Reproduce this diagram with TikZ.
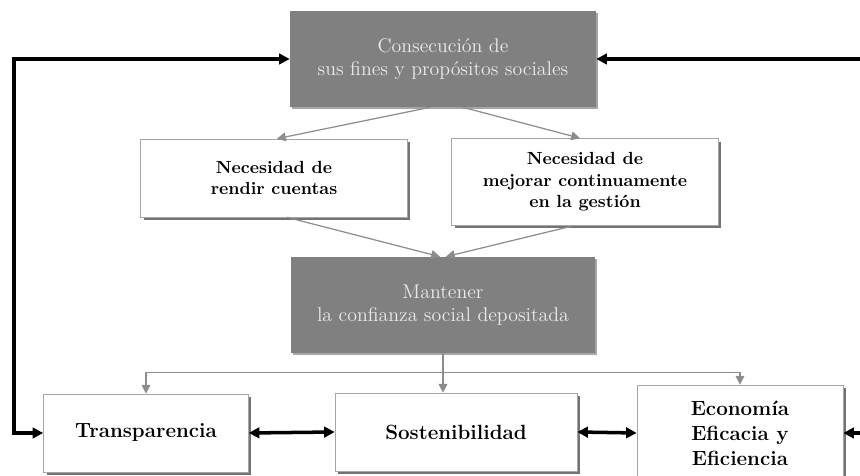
\documentclass[tikz,border=0pt]{standalone}
\usepackage{tikz}
\usetikzlibrary{arrows.meta}
\usetikzlibrary{shadows}
\usetikzlibrary{calc, positioning}
\definecolor{boxgray}{HTML}{808080}
\definecolor{linegray}{HTML}{8C8C8C}

\begin{document}
\begin{tikzpicture}[x=0.02cm, y=-0.02cm,
	darkbox/.style={fill=boxgray, text=white!92!black, align=center, font=\fontsize{11.3}{12.8}\selectfont,
		drop shadow={shadow xshift=0.4mm, shadow yshift=-0.4mm, fill=black!35, opacity=1}},
	lightbox/.style={draw=black!35, fill=white, align=center, font=\bfseries\fontsize{10}{12.3}\selectfont,
		drop shadow={shadow xshift=0.6mm, shadow yshift=-0.6mm, fill=black!55, opacity=1}},
	basebox/.style={lightbox, font=\bfseries\fontsize{11.7}{14.2}\selectfont},
	grayarrow/.style={draw=linegray, line width=0.7pt, -{Triangle[length=5pt, width=5pt]}},
	blackarrow/.style={draw=black, line width=2pt, -{Triangle[length=6pt, width=6pt]}},
	both/.style={blackarrow, {Triangle[length=6pt, width=6pt]}-{Triangle[length=6pt, width=6pt]}}]
	\useasboundingbox (0,0) rectangle (860,476);
	\node[darkbox, minimum width=6.12cm, minimum height=1.92cm] (fines) at (443,59) {Consecución de\\sus fines y propósitos sociales};
	\node[lightbox, minimum width=5.34cm, minimum height=1.56cm] (cuentas) at (274,178) {Necesidad de\\rendir cuentas};
	\node[lightbox, minimum width=5.34cm, minimum height=1.74cm] (mejorar) at (585,182) {Necesidad de\\mejorar continuamente\\en la gestión};
	\node[darkbox, minimum width=6.1cm, minimum height=1.92cm] (confianza) at (443,305) {Mantener\\la confianza social depositada};
	\node[basebox, minimum width=4.1cm, minimum height=1.56cm] (transp) at (146,433) {Transparencia};
	\node[basebox, minimum width=4.84cm, minimum height=1.56cm] (sost) at (456,432) {Sostenibilidad};
	\node[basebox, minimum width=4.12cm, minimum height=1.92cm] (econ) at (740,433) {Economía\\Eficacia y\\Eficiencia};
	\coordinate (split) at ($(confianza.south)+(0,19)$);
	\coordinate (lefttop) at (14,59);
	\coordinate (righttop) at (864,59);
	\coordinate (rightbottom) at (864,433);
	\draw[grayarrow] ($(fines.south)+(-13,0)$) -- ($(cuentas.north)+(3,0)$);
	\draw[grayarrow] ($(fines.south)+(20,0)$) -- ($(mejorar.north)+(-5,0)$);
	\draw[grayarrow] ($(cuentas.south)+(13,0)$) -- ($(confianza.north)+(-3,0)$);
	\draw[grayarrow] ($(mejorar.south)+(-12,0)$) -- ($(confianza.north)+(3,0)$);
	\draw[grayarrow] (confianza.south) -- (confianza.south |- sost.north);
	\draw[grayarrow] (split) -| (transp.north);
	\draw[grayarrow] (split) -| (econ.north);
	\draw[both] (fines.west) -- (lefttop) |- (transp.west);
	\draw[blackarrow] (righttop) -- (fines.east);
	\draw[blackarrow] (rightbottom) -- (econ.east);
	\draw[both] (transp.east) -- (sost.west);
	\draw[both] (sost.east) -- (econ.west);
\end{tikzpicture}
\end{document}
